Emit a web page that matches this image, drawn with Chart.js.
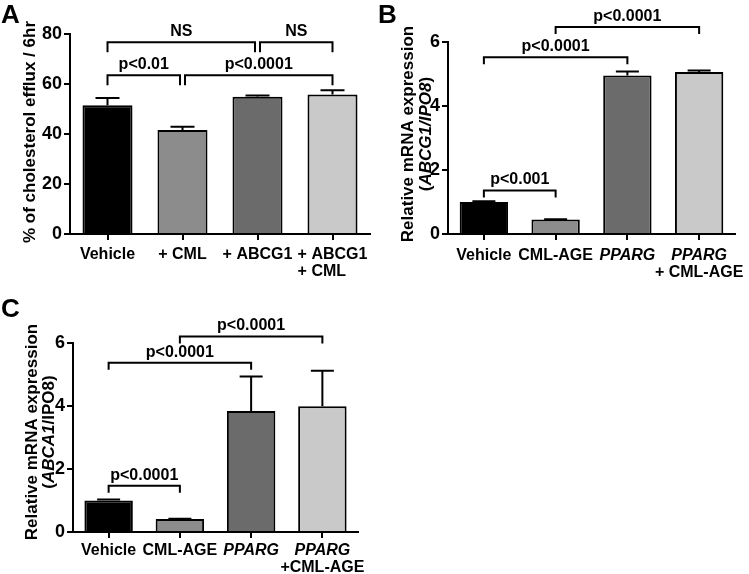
<!DOCTYPE html>
<html>
<head>
<meta charset="utf-8">
<script src="https://cdn.jsdelivr.net/npm/chart.js@4.4.1/dist/chart.umd.min.js"></script>
<style>
  html, body { margin: 0; padding: 0; background: #fff; }
  #wrap { position: relative; width: 749px; height: 574px; overflow: hidden; }
  canvas { position: absolute; }
</style>
</head>
<body>
<div id="wrap">
  <canvas id="chartA" width="375" height="290" style="left:0;top:0"></canvas>
  <canvas id="chartB" width="374" height="290" style="left:375px;top:0"></canvas>
  <canvas id="chartC" width="375" height="289" style="left:0;top:285px"></canvas>
</div>
<script>
// ---- data (underscores mark italic text) ----
const labelsA = ["Vehicle", "+ CML", "+ ABCG1", ["+ ABCG1", "+ CML"]];
const effluxMeans = [51.5, 41.6, 54.9, 55.8];
const effluxErrs = [2.9, 1.3, 0.5, 1.7];
const yTicksA = [0, 20, 40, 60, 80];
const titleA = ["% of cholesterol efflux / 6hr"];
const bracketsA = [
  { from: 0, to: 2, at: 76.7, text: "NS" },
  { from: 2, to: 3, at: 76.7, text: "NS" },
  { from: 0, to: 1, at: 63.5, text: "p<0.01" },
  { from: 1, to: 3, at: 63.5, text: "p<0.0001" },
];

const labelsB = ["Vehicle", "CML-AGE", "_PPARG_", ["_PPARG_", "+ CML-AGE"]];
const abcg1Means = [1.0, 0.45, 4.95, 5.06];
const abcg1Errs = [0.02, 0.01, 0.13, 0.05];
const yTicksB = [0, 2, 4, 6];
const titleB = ["Relative mRNA expression", "(_ABCG1/IPO8_)"];
const bracketsB = [
  { from: 1, to: 3, at: 6.47, text: "p<0.0001" },
  { from: 0, to: 2, at: 5.52, text: "p<0.0001" },
  { from: 0, to: 1, at: 1.36, text: "p<0.001" },
];

const labelsC = ["Vehicle", "CML-AGE", "_PPARG_", ["_PPARG_", "+CML-AGE"]];
const abca1Means = [1.0, 0.41, 3.84, 3.99];
const abca1Errs = [0.03, 0.01, 1.1, 1.13];
const yTicksC = [0, 2, 4, 6];
const titleC = ["Relative mRNA expression", "(_ABCA1_/IPO8)"];
const bracketsC = [
  { from: 1, to: 3, at: 6.21, text: "p<0.0001" },
  { from: 0, to: 2, at: 5.37, text: "p<0.0001" },
  { from: 0, to: 1, at: 1.47, text: "p<0.0001" },
];

const barColors = ["#000000", "#8c8c8c", "#6b6b6b", "#c9c9c9"];
const FONT = '"Liberation Sans", Arial, Helvetica, sans-serif';

// ---- text helpers ----
function fontFor(italic, size) {
  return (italic ? "italic " : "") + "bold " + size + "px " + FONT;
}
function segs(str) {
  return str.split("_").map((t, i) => ({ t, it: i % 2 === 1 })).filter((s) => s.t);
}
function textWidth(ctx, str, size) {
  let w = 0;
  segs(str).forEach((p) => { ctx.font = fontFor(p.it, size); w += ctx.measureText(p.t).width; });
  return w;
}
function drawRich(ctx, str, x, y, size, align) {
  const parts = segs(str);
  let cx = align === "left" ? x : x - textWidth(ctx, str, size) / 2;
  ctx.textAlign = "left";
  parts.forEach((p) => {
    ctx.font = fontFor(p.it, size);
    ctx.fillText(p.t, cx, y);
    cx += ctx.measureText(p.t).width;
  });
}

// draws error bars, brackets, x labels, y title and panel letter
function annotations(cfg) {
  return {
    id: "annotations",
    afterDatasetsDraw(chart) {
      const ctx = chart.ctx;
      const xs = chart.scales.x, ys = chart.scales.y;
      const area = chart.chartArea;
      ctx.save();
      ctx.strokeStyle = "#000";
      ctx.fillStyle = "#000";
      ctx.lineWidth = 2;

      // error bars (upper only)
      cfg.means.forEach((m, i) => {
        const x = xs.getPixelForValue(i);
        const y0 = ys.getPixelForValue(m);
        const y1 = ys.getPixelForValue(m + cfg.errs[i]);
        ctx.beginPath();
        ctx.moveTo(x, y0);
        ctx.lineTo(x, y1);
        ctx.moveTo(x - cfg.cap, y1);
        ctx.lineTo(x + cfg.cap, y1);
        ctx.stroke();
      });

      // significance brackets
      cfg.brackets.forEach((b, k) => {
        const y = ys.getPixelForValue(b.at);
        const shared = (idx) => cfg.brackets.some((o, j) =>
          j !== k && o.at === b.at && (o.from === idx || o.to === idx));
        let xa = xs.getPixelForValue(b.from);
        let xb = xs.getPixelForValue(b.to);
        if (shared(b.from)) xa += 2.5;
        if (shared(b.to)) xb -= 2.5;
        ctx.beginPath();
        ctx.moveTo(xa, y + cfg.leg);
        ctx.lineTo(xa, y);
        ctx.lineTo(xb, y);
        ctx.lineTo(xb, y + cfg.leg);
        ctx.stroke();
        ctx.textBaseline = "alphabetic";
        drawRich(ctx, b.text, (xa + xb) / 2, y - 6, 16, "center");
      });

      // category labels
      ctx.textBaseline = "alphabetic";
      cfg.labels.forEach((lab, i) => {
        const lines = [].concat(lab);
        const x = xs.getPixelForValue(i);
        const maxW = Math.max(...lines.map((l) => textWidth(ctx, l, 16)));
        lines.forEach((l, j) => {
          const y = area.bottom + cfg.labelOffset + j * 16.5;
          if (cfg.blockLeft && lines.length > 1) drawRich(ctx, l, x - maxW / 2, y, 16, "left");
          else drawRich(ctx, l, x, y, 16, "center");
        });
      });

      // y-axis title
      ctx.textBaseline = "middle";
      cfg.title.forEach((l, j) => {
        ctx.save();
        ctx.translate(cfg.titleX[j], cfg.titleY);
        ctx.rotate(-Math.PI / 2);
        drawRich(ctx, l, 0, 0, 17, "center");
        ctx.restore();
      });

      // panel letter
      ctx.textBaseline = "alphabetic";
      ctx.textAlign = "left";
      ctx.font = "bold 26px " + FONT;
      ctx.fillText(cfg.letter, cfg.letterX, cfg.letterY);
      ctx.restore();
    },
  };
}

function makeChart(id, cfg) {
  const axisGrid = {
    display: true, drawOnChartArea: false, drawTicks: true,
    tickLength: 6, color: "#000", lineWidth: 2, offset: false,
  };
  const border = { display: true, color: "#000", width: 2 };
  return new Chart(document.getElementById(id), {
    type: "bar",
    data: {
      labels: cfg.labels.map((l) => [].concat(l).join(" ").replace(/_/g, "")),
      datasets: [{
        data: cfg.means,
        backgroundColor: barColors,
        borderColor: "#000",
        borderWidth: 2,
        barPercentage: cfg.barPct,
        categoryPercentage: 1,
      }],
    },
    options: {
      responsive: false,
      animation: false,
      devicePixelRatio: 1,
      layout: { padding: cfg.pad },
      plugins: { legend: { display: false }, tooltip: { enabled: false } },
      scales: {
        x: {
          grid: axisGrid,
          border: border,
          ticks: { display: false },
          afterFit: (s) => { s.height = cfg.xHeight; },
        },
        y: {
          min: cfg.yTicks[0],
          max: cfg.yTicks[cfg.yTicks.length - 1],
          grid: axisGrid,
          border: border,
          ticks: {
            stepSize: cfg.yTicks[1] - cfg.yTicks[0],
            color: "#000",
            padding: 2,
            font: { family: FONT, size: 18, weight: "bold" },
          },
          afterFit: (s) => { s.width = cfg.yWidth; },
        },
      },
    },
    plugins: [annotations(cfg)],
  });
}

makeChart("chartA", {
  labels: labelsA, means: effluxMeans, errs: effluxErrs, yTicks: yTicksA,
  title: titleA, brackets: bracketsA,
  pad: { left: 0, right: 5, top: 34, bottom: 0 }, yWidth: 70, xHeight: 56,
  barPct: 0.667, cap: 12, leg: 10, labelOffset: 25, blockLeft: true,
  titleX: [30], titleY: 132, letter: "A", letterX: 1, letterY: 23,
});

makeChart("chartB", {
  labels: labelsB, means: abcg1Means, errs: abcg1Errs, yTicks: yTicksB,
  title: titleB, brackets: bracketsB,
  pad: { left: 0, right: 14, top: 42, bottom: 0 }, yWidth: 73, xHeight: 56,
  barPct: 0.674, cap: 11.5, leg: 7, labelOffset: 26,
  titleX: [33, 51], titleY: 134, letter: "B", letterX: 3, letterY: 23,
});

makeChart("chartC", {
  labels: labelsC, means: abca1Means, errs: abca1Errs, yTicks: yTicksC,
  title: titleC, brackets: bracketsC,
  pad: { left: 0, right: 17, top: 58, bottom: 0 }, yWidth: 73, xHeight: 42,
  barPct: 0.68, cap: 11.5, leg: 7, labelOffset: 23,
  titleX: [32, 49], titleY: 147, letter: "C", letterX: 1, letterY: 32,
});
</script>
</body>
</html>
